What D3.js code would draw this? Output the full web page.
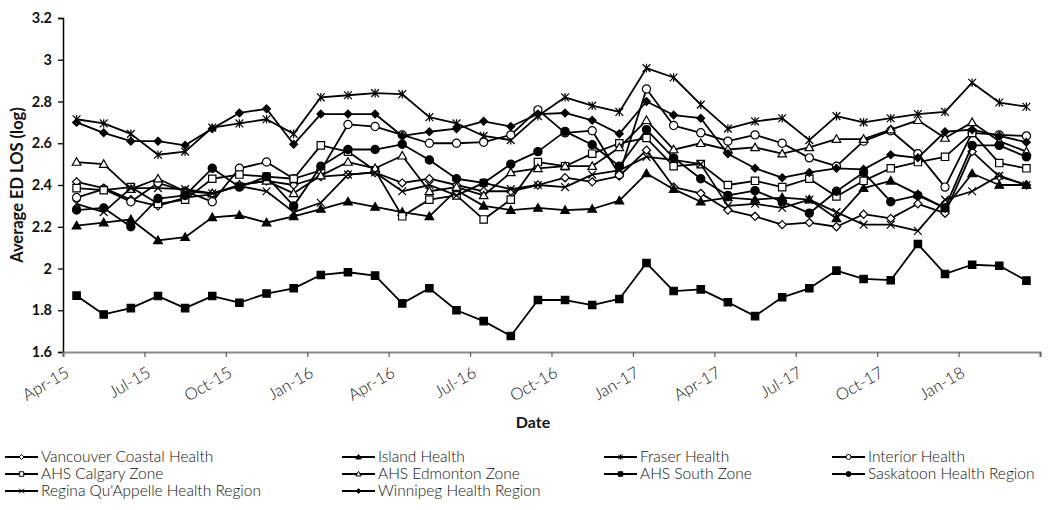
<!DOCTYPE html>
<html><head><meta charset="utf-8">
<script src="https://cdn.jsdelivr.net/npm/d3@7"></script>
<style>
html,body{margin:0;padding:0;background:#fff;}
svg{display:block;font-family:Lato,"Open Sans",sans-serif;}
</style></head>
<body><svg id="chart" width="1055" height="510"></svg>
<script>
const categories = ["Apr-15","May-15","Jun-15","Jul-15","Aug-15","Sep-15","Oct-15","Nov-15","Dec-15",
  "Jan-16","Feb-16","Mar-16","Apr-16","May-16","Jun-16","Jul-16","Aug-16","Sep-16","Oct-16","Nov-16","Dec-16",
  "Jan-17","Feb-17","Mar-17","Apr-17","May-17","Jun-17","Jul-17","Aug-17","Sep-17","Oct-17","Nov-17","Dec-17",
  "Jan-18","Feb-18","Mar-18"];
const tickLabels = ["Apr-15","Jul-15","Oct-15","Jan-16","Apr-16","Jul-16","Oct-16","Jan-17","Apr-17","Jul-17","Oct-17","Jan-18"];
const yTicks = [1.6,1.8,2,2.2,2.4,2.6,2.8,3,3.2];

const vancouver = [2.415,2.385,2.33,2.30,2.34,2.355,2.40,2.42,2.40,2.44,2.45,2.46,2.41,2.43,2.40,2.37,2.37,2.40,2.435,2.415,2.443,2.567,2.39,2.36,2.28,2.25,2.21,2.22,2.20,2.26,2.24,2.31,2.265,2.56,2.44,2.40];
const island = [2.205,2.22,2.235,2.135,2.15,2.245,2.255,2.22,2.25,2.285,2.32,2.295,2.27,2.25,2.375,2.30,2.28,2.29,2.28,2.285,2.325,2.455,2.38,2.32,2.34,2.33,2.34,2.33,2.24,2.385,2.42,2.355,2.29,2.455,2.40,2.40];
const fraser = [2.715,2.695,2.645,2.545,2.56,2.675,2.695,2.715,2.645,2.82,2.83,2.84,2.835,2.725,2.695,2.635,2.615,2.73,2.82,2.78,2.75,2.96,2.915,2.785,2.67,2.705,2.72,2.615,2.73,2.70,2.72,2.74,2.75,2.89,2.795,2.775];
const interior = [2.34,2.38,2.32,2.41,2.37,2.32,2.48,2.51,2.43,2.47,2.69,2.68,2.64,2.60,2.60,2.605,2.64,2.76,2.65,2.66,2.45,2.86,2.685,2.65,2.61,2.64,2.60,2.53,2.49,2.61,2.66,2.55,2.39,2.65,2.64,2.635];
const calgary = [2.385,2.375,2.39,2.31,2.33,2.43,2.45,2.44,2.43,2.59,2.56,2.47,2.25,2.33,2.35,2.235,2.33,2.51,2.49,2.55,2.60,2.625,2.49,2.50,2.40,2.42,2.39,2.43,2.345,2.42,2.48,2.51,2.535,2.65,2.505,2.48];
const edmonton = [2.51,2.50,2.38,2.43,2.37,2.36,2.40,2.42,2.36,2.445,2.51,2.48,2.54,2.37,2.39,2.35,2.46,2.48,2.49,2.49,2.58,2.71,2.57,2.60,2.57,2.58,2.55,2.58,2.62,2.62,2.665,2.71,2.625,2.70,2.61,2.56];
const south = [1.87,1.78,1.81,1.868,1.81,1.868,1.836,1.88,1.905,1.969,1.982,1.966,1.833,1.905,1.80,1.748,1.677,1.849,1.849,1.825,1.854,2.026,1.892,1.90,1.838,1.772,1.862,1.905,1.99,1.95,1.944,2.117,1.974,2.018,2.013,1.942];
const saskatoon = [2.28,2.29,2.20,2.335,2.35,2.48,2.39,2.44,2.30,2.49,2.57,2.57,2.595,2.52,2.43,2.41,2.50,2.56,2.657,2.593,2.49,2.665,2.53,2.43,2.35,2.373,2.32,2.265,2.37,2.46,2.32,2.35,2.29,2.59,2.59,2.535];
const regina = [2.31,2.27,2.385,2.385,2.38,2.36,2.395,2.37,2.27,2.315,2.45,2.46,2.37,2.40,2.35,2.41,2.38,2.40,2.39,2.45,2.47,2.535,2.52,2.50,2.30,2.31,2.29,2.33,2.27,2.21,2.21,2.18,2.33,2.37,2.445,2.40];
const winnipeg = [2.70,2.65,2.61,2.61,2.59,2.67,2.745,2.765,2.595,2.74,2.74,2.74,2.635,2.655,2.67,2.705,2.68,2.74,2.745,2.71,2.645,2.80,2.735,2.72,2.55,2.48,2.435,2.46,2.48,2.475,2.545,2.53,2.655,2.665,2.635,2.605];

const seriesNames = ["Vancouver Coastal Health","Island Health","Fraser Health","Interior Health",
  "AHS Calgary Zone","AHS Edmonton Zone","AHS South Zone","Saskatoon Health Region",
  "Regina Qu'Appelle Health Region","Winnipeg Health Region"];
const seriesValues = [vancouver,island,fraser,interior,calgary,edmonton,south,saskatoon,regina,winnipeg];
const seriesMarkers = ["diamondOpen","triangleFilled","asterisk","circleOpen","squareOpen","triangleOpen","squareFilled","circleFilled","cross","diamondFilled"];

const W = 1055, H = 510;
const m = {left: 63, right: 15, top: 18, bottom: 158};
const svg = d3.select("#chart");

const x = d3.scaleBand().domain(categories).range([m.left, W - m.right]).padding(0);
const xTick = d3.scaleLinear().domain([0, categories.length]).range([m.left, W - m.right]);
const y = d3.scaleLinear().domain([1.6, 3.2]).range([H - m.bottom, m.top]);
const cx = d => x(d) + x.bandwidth() / 2;

function markerPath(type, s) {
  switch (type) {
    case "diamondOpen": case "diamondFilled": {
      const r = s * (type === "diamondOpen" ? 1.0 : 0.95);
      return `M0,${-r}L${r},0L0,${r}L${-r},0Z`;
    }
    case "triangleOpen": case "triangleFilled": {
      const r = s * 1.05;
      return `M0,${-r}L${r},${r * 0.75}L${-r},${r * 0.75}Z`;
    }
    case "squareOpen": case "squareFilled": {
      const r = s * 0.9;
      return `M${-r},${-r}H${r}V${r}H${-r}Z`;
    }
    case "circleOpen": case "circleFilled": {
      const r = s;
      return `M${r},0A${r},${r} 0 1,1 ${-r},0A${r},${r} 0 1,1 ${r},0Z`;
    }
    case "cross": {
      const r = s * 0.95;
      return `M${-r},${-r}L${r},${r}M${-r},${r}L${r},${-r}`;
    }
    case "asterisk": {
      const r = s * 0.95;
      return `M${-r},${-r}L${r},${r}M${-r},${r}L${r},${-r}M0,${-r * 1.1}L0,${r * 1.1}`;
    }
  }
}
function markerFill(type) {
  if (type.endsWith("Filled")) return "#000";
  if (type === "cross" || type === "asterisk") return "none";
  return "#fff";
}

// Y axis
const yAxis = svg.append("g").attr("transform", `translate(${m.left},0)`)
  .call(d3.axisLeft(y).tickValues(yTicks).tickSize(5).tickPadding(6)
    .tickFormat(d => String(+d.toFixed(1))));
yAxis.select(".domain").attr("stroke", "#000").attr("stroke-width", 1.5);
yAxis.selectAll(".tick line").attr("stroke", "#000").attr("stroke-width", 1.3);
yAxis.selectAll(".tick text").attr("font-size", 14.5).attr("font-weight", "bold")
  .attr("fill", "#111").attr("font-family", "Lato, sans-serif");

// X axis ticks (category boundaries every 3 months)
const xAxisG = svg.append("g").attr("transform", `translate(0,${y(1.6)})`)
  .call(d3.axisBottom(xTick).tickValues(d3.range(0, categories.length + 1, 3)).tickSize(5).tickFormat(""));
xAxisG.select(".domain").attr("stroke", "#888").attr("stroke-width", 2.2);
xAxisG.selectAll(".tick line").attr("stroke", "#666").attr("stroke-width", 1.3);

// X tick labels at category centers
svg.append("g").selectAll("text").data(tickLabels).join("text")
  .attr("transform", d => `translate(${cx(d) - 12},${y(1.6) + 14}) rotate(-30)`)
  .attr("text-anchor", "end").attr("dy", "0.7em")
  .attr("font-size", 16.5).attr("font-weight", 300).attr("fill", "#111")
  .text(d => d);

// Axis titles
svg.append("text").attr("transform", `translate(17,${(y(3.2) + y(1.6)) / 2}) rotate(-90)`)
  .attr("text-anchor", "middle").attr("dy", "0.35em")
  .attr("font-size", 16.5).attr("font-weight", "bold").attr("fill", "#111")
  .text("Average ED LOS (log)");
svg.append("text").attr("x", 533).attr("y", 428).attr("text-anchor", "middle")
  .attr("font-size", 16).attr("font-weight", "bold").attr("fill", "#111").text("Date");

// Lines and markers
const line = d3.line().x((d, i) => cx(categories[i])).y(d => y(d));
seriesValues.forEach((vals, k) => {
  const g = svg.append("g");
  g.append("path").datum(vals).attr("d", line).attr("fill", "none")
    .attr("stroke", "#000").attr("stroke-width", 1.8).attr("stroke-linejoin", "round");
  const type = seriesMarkers[k];
  g.selectAll("path.mk").data(vals).join("path").attr("class", "mk")
    .attr("transform", (d, i) => `translate(${cx(categories[i])},${y(d)})`)
    .attr("d", markerPath(type, 4.1))
    .attr("fill", markerFill(type)).attr("stroke", "#000").attr("stroke-width", 1.2);
});

// Legend
const legCols = [5, 342, 604, 832];
const legRows = [457, 474, 491];
const legLine = 33;
seriesNames.forEach((name, k) => {
  const col = k % 4, row = Math.floor(k / 4);
  const lx = legCols[col], ly = legRows[row];
  const g = svg.append("g").attr("transform", `translate(${lx},${ly})`);
  g.append("line").attr("x1", 0).attr("x2", legLine).attr("y1", 0).attr("y2", 0)
    .attr("stroke", "#000").attr("stroke-width", 1.8);
  const type = seriesMarkers[k];
  g.append("path").attr("transform", `translate(${legLine / 2},0)`)
    .attr("d", markerPath(type, 2.5))
    .attr("fill", markerFill(type)).attr("stroke", "#000").attr("stroke-width", 1);
  g.append("text").attr("x", legLine + 3).attr("y", 0).attr("dy", "0.35em")
    .attr("font-size", 15.5).attr("font-weight", 300)
    .attr("fill", "#111").text(name);
});
</script></body></html>
